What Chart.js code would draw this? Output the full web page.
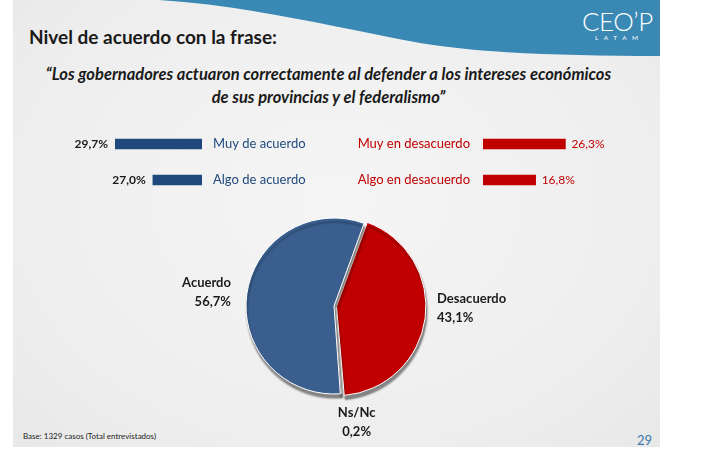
<!DOCTYPE html>
<html lang="es">
<head>
<meta charset="utf-8">
<script src="https://cdn.jsdelivr.net/npm/chart.js@4.4.1/dist/chart.umd.min.js"></script>
<style>
    html, body { margin: 0; padding: 0; background: #fff; }
    body { width: 721px; height: 452px; position: relative; overflow: hidden; font-family: Lato, 'Open Sans', sans-serif; }
    #slide { position: absolute; left: 13px; top: 0; width: 647px; height: 447px;
             background: radial-gradient(ellipse at 50% 45%, #f5f5f5 0%, #eeeeee 70%, #e8e8e8 100%); }
    #wave { position: absolute; left: 0; top: 0; }
    .abs { position: absolute; white-space: nowrap; }
    #title { left: 29px; top: 25px; font-size: 19px; font-weight: 700; color: #1a1a1a; }
    #quote { left: 5px; width: 647px; top: 63px; text-align: center; font-size: 16.5px; font-weight: 700;
             font-style: italic; color: #1a1a1a; line-height: 23px; }
    #logo { left: 582px; top: 5px; color: #fff; font-size: 26px; font-weight: 300; letter-spacing: -0.5px; }
    #latam { left: 595px; top: 34px; color: #fff; font-size: 6.5px; letter-spacing: 5.5px; }
    #base { left: 23px; top: 431px; font-size: 8px; color: #222; }
    #page { left: 637px; top: 432px; font-size: 13px; color: #3a78a8; }
    canvas { position: absolute; }
</style>
</head>
<body>
<div id="slide"></div>
<svg id="wave" width="721" height="70">
    <path d="M159,0 C250,6 330,26 420,43 C480,53 560,56 660,56 L660,0 Z" fill="#3a88b4"/>
</svg>
<div id="logo" class="abs">CEO’P</div>
<div id="latam" class="abs">LATAM</div>
<div id="title" class="abs">Nivel de acuerdo con la frase:</div>
<div id="quote" class="abs">“Los gobernadores actuaron correctamente al defender a los intereses económicos<br>de sus provincias y el federalismo”</div>
<div id="base" class="abs">Base: 1329 casos (Total entrevistados)</div>
<div id="page" class="abs">29</div>

<canvas id="leftBars" width="260" height="72" style="left:60px; top:126px;"></canvas>
<canvas id="rightBars" width="290" height="72" style="left:340px; top:126px;"></canvas>
<canvas id="pie" width="370" height="240" style="left:149px; top:206px;"></canvas>

<script>
const agreeCategories = ['Muy de acuerdo', 'Algo de acuerdo'];
const agreeValues = [29.7, 27.0];
const disagreeCategories = ['Muy en desacuerdo', 'Algo en desacuerdo'];
const disagreeValues = [26.3, 16.8];
const pieLabels = ['Desacuerdo', 'Ns/Nc', 'Acuerdo'];
const pieValues = [43.1, 0.2, 56.7];

const BAR_BLUE = '#1f497d';
const PIE_BLUE = '#3a5f8f';
const RED = '#c00000';
const FONT = 'Lato, "Open Sans", sans-serif';

const pct = v => v.toFixed(1).replace('.', ',') + '%';

// writes the value and the category name on either side of each bar
const sideLabels = (categoryColor, valueColor, valueOnLeft) => ({
    id: 'sideLabels',
    afterDatasetsDraw(chart) {
        const ctx = chart.ctx;
        const area = chart.chartArea;
        const meta = chart.getDatasetMeta(0);
        ctx.save();
        ctx.textBaseline = 'middle';
        meta.data.forEach((bar, i) => {
            // bars are clipped to the chart area, so clamp the ends the same way
            const left = Math.max(area.left, Math.min(bar.x, bar.base));
            const right = Math.min(area.right, Math.max(bar.x, bar.base));
            const value = pct(chart.data.datasets[0].data[i]);
            const name = chart.data.labels[i];
            if (valueOnLeft) {
                ctx.font = `bold 12px ${FONT}`;
                ctx.fillStyle = valueColor;
                ctx.textAlign = 'right';
                ctx.fillText(value, left - 7, bar.y);
                ctx.font = `13px ${FONT}`;
                ctx.fillStyle = categoryColor;
                ctx.textAlign = 'left';
                ctx.fillText(name, right + 11, bar.y);
            } else {
                ctx.font = `13px ${FONT}`;
                ctx.fillStyle = categoryColor;
                ctx.textAlign = 'right';
                ctx.fillText(name, left - 13, bar.y);
                ctx.font = `12px ${FONT}`;
                ctx.fillStyle = valueColor;
                ctx.textAlign = 'left';
                ctx.fillText(value, right + 6, bar.y);
            }
        });
        ctx.restore();
    }
});

const barOptions = (padding, xScale) => ({
    indexAxis: 'y',
    responsive: false,
    animation: false,
    layout: { padding },
    scales: {
        x: Object.assign({ display: false }, xScale),
        y: { display: false }
    },
    plugins: { legend: { display: false }, tooltip: { enabled: false } }
});

// the source slide does not draw the agree bars to a zero baseline
new Chart(document.getElementById('leftBars'), {
    type: 'bar',
    data: { labels: agreeCategories, datasets: [{ data: agreeValues, backgroundColor: BAR_BLUE, barThickness: 10 }] },
    options: barOptions({ left: 55, right: 118, top: 0, bottom: 0 }, { reverse: true, min: 23.5, max: 29.7 }),
    plugins: [sideLabels(BAR_BLUE, '#1a1a1a', true)]
});

new Chart(document.getElementById('rightBars'), {
    type: 'bar',
    data: { labels: disagreeCategories, datasets: [{ data: disagreeValues, backgroundColor: RED, barThickness: 10 }] },
    options: barOptions({ left: 143, right: 53, top: 0, bottom: 0 }, { min: 0, max: 30 }),
    plugins: [sideLabels(RED, RED, false)]
});

const pieShadow = {
    id: 'pieShadow',
    beforeDatasetsDraw(chart) {
        const ctx = chart.ctx;
        ctx.save();
        ctx.shadowColor = 'rgba(0,0,0,0.45)';
        ctx.shadowOffsetX = 1;
        ctx.shadowOffsetY = 4;
        ctx.shadowBlur = 2;
    },
    afterDatasetsDraw(chart) {
        chart.ctx.restore();
    }
};

const pieLabelNudge = [[-4, -12], [15, 0], [-6, 0]];

const pieText = {
    id: 'pieText',
    afterDatasetsDraw(chart) {
        const ctx = chart.ctx;
        const ds = chart.data.datasets[0];
        ctx.save();
        ctx.font = `bold 13px ${FONT}`;
        ctx.fillStyle = '#1a1a1a';
        ctx.textBaseline = 'middle';
        chart.getDatasetMeta(0).data.forEach((arc, i) => {
            const mid = (arc.startAngle + arc.endAngle) / 2;
            const off = ds.offset[i] || 0;
            const r = arc.outerRadius + off + 10;
            const cos = Math.cos(mid), sin = Math.sin(mid);
            const x = arc.x + cos * r + pieLabelNudge[i][0];
            const y = arc.y + sin * r + pieLabelNudge[i][1];
            ctx.textAlign = cos < -0.3 ? 'right' : cos > 0.3 ? 'left' : 'center';
            // labels below the pie hang from the anchor, side labels are centred on it
            const firstY = sin > 0.7 ? y + 9 : y - 9.5;
            [chart.data.labels[i], pct(ds.data[i])].forEach((t, k) => ctx.fillText(t, x, firstY + k * 19));
        });
        ctx.restore();
    }
};

new Chart(document.getElementById('pie'), {
    type: 'pie',
    data: {
        labels: pieLabels,
        datasets: [{
            data: pieValues,
            backgroundColor: [RED, '#d9d9d9', PIE_BLUE],
            borderColor: '#ffffff',
            borderWidth: 1,
            offset: [10, 0, 0]
        }]
    },
    options: {
        responsive: false,
        animation: false,
        rotation: 20,
        radius: 88,
        layout: { padding: { left: 0, right: 0, top: 0, bottom: 40 } },
        plugins: { legend: { display: false }, tooltip: { enabled: false } }
    },
    plugins: [pieShadow, pieText]
});
</script>
</body>
</html>
